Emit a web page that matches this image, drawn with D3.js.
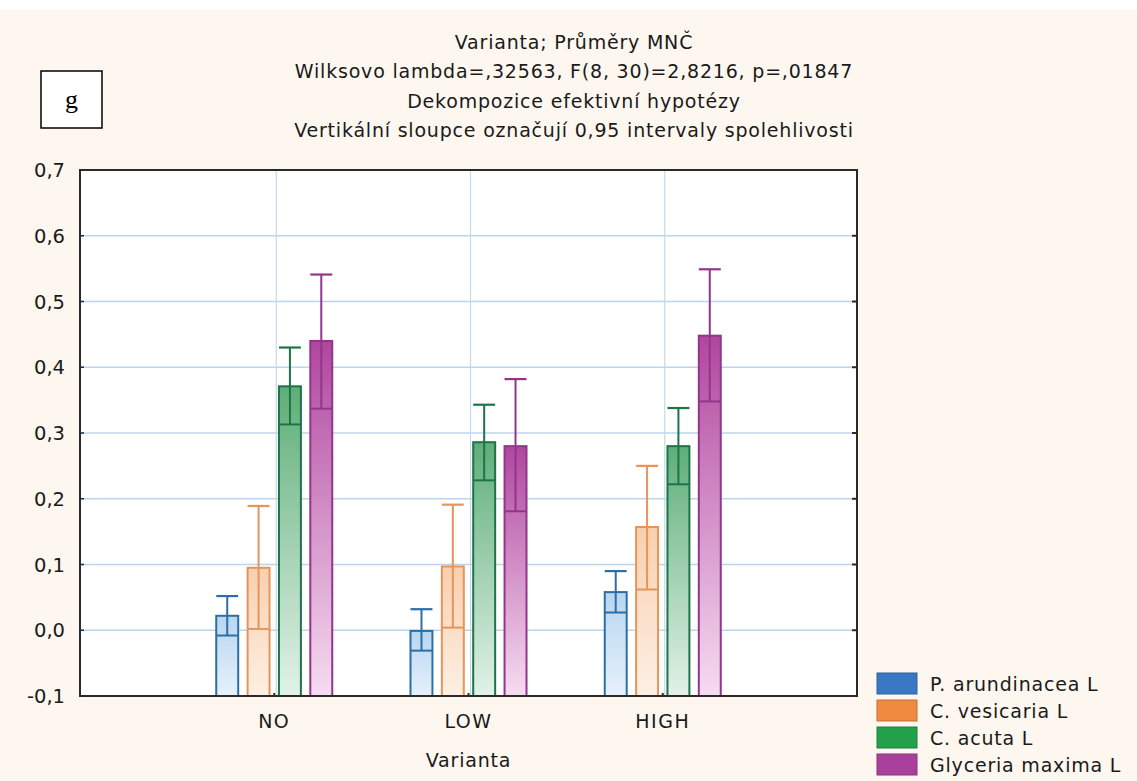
<!DOCTYPE html>
<html lang="cs">
<head>
<meta charset="UTF-8">
<title>Varianta; Průměry MNČ</title>
<script src="https://d3js.org/d3.v7.min.js"></script>
<style>
  body { margin: 0; background: #fff; }
  text { font-family: "DejaVu Sans", Verdana, sans-serif; fill: #1a1a1a; }
</style>
</head>
<body>
<svg width="1137" height="781"></svg>
<script>
    // data
    var categories = ["NO", "LOW", "HIGH"];
    var seriesNames = ["P. arundinacea L", "C. vesicaria L", "C. acuta L", "Glyceria maxima L"];
    // means per series, in order NO, LOW, HIGH
    var meanArund = [0.022, -0.001, 0.058];
    var meanVesic = [0.095, 0.097, 0.157];
    var meanAcuta = [0.371, 0.286, 0.280];
    var meanGlyc  = [0.440, 0.280, 0.448];
    // 0.95 confidence limits
    var lowArund = [-0.008, -0.031, 0.027], highArund = [0.052, 0.032, 0.090];
    var lowVesic = [0.002, 0.004, 0.062],   highVesic = [0.189, 0.191, 0.250];
    var lowAcuta = [0.313, 0.228, 0.222],   highAcuta = [0.430, 0.343, 0.338];
    var lowGlyc  = [0.337, 0.181, 0.348],   highGlyc  = [0.541, 0.382, 0.549];
    var yTicks = [-0.1, 0, 0.1, 0.2, 0.3, 0.4, 0.5, 0.6, 0.7];
    var titleLines = [
        "Varianta; Průměry MNČ",
        "Wilksovo lambda=,32563, F(8, 30)=2,8216, p=,01847",
        "Dekompozice efektivní hypotézy",
        "Vertikální sloupce označují 0,95 intervaly spolehlivosti"
    ];

    var means = [meanArund, meanVesic, meanAcuta, meanGlyc];
    var lows = [lowArund, lowVesic, lowAcuta, lowGlyc];
    var highs = [highArund, highVesic, highAcuta, highGlyc];

    var fills = [["#b8d6f0", "#e6f1fb"], ["#f9cfae", "#fdf0e4"], ["#5eae78", "#e2f2e8"], ["#b0469f", "#f6dcf1"]];
    var strokes = ["#2c6ea6", "#e5955c", "#1d7448", "#93358b"];
    var legendColors = ["#3b78c4", "#f08a40", "#23a04b", "#a8409c"];

    var svg = d3.select("svg");
    var plot = {left: 80, right: 857, top: 170, bottom: 696};

    // backgrounds
    svg.append("rect").attr("x", 0).attr("y", 10).attr("width", 1137).attr("height", 771).attr("fill", "#fdf7f0");
    svg.append("rect").attr("x", plot.left).attr("y", plot.top)
        .attr("width", plot.right - plot.left).attr("height", plot.bottom - plot.top).attr("fill", "#fff");

    var x = d3.scalePoint().domain(categories).range([plot.left, plot.right]).padding(1);
    var xs = d3.scaleBand().domain(d3.range(seriesNames.length)).range([-58, 58]).paddingInner(0.3);
    var y = d3.scaleLinear().domain([-0.1, 0.7]).range([plot.bottom, plot.top]);

    var defs = svg.append("defs");
    fills.forEach(function(f, i) {
        var gr = defs.append("linearGradient").attr("id", "grad" + i)
            .attr("x1", 0).attr("y1", 0).attr("x2", 0).attr("y2", 1);
        gr.append("stop").attr("offset", "0%").attr("stop-color", f[0]);
        gr.append("stop").attr("offset", "100%").attr("stop-color", f[1]);
    });

    // grid
    var grid = svg.append("g");
    yTicks.slice(1, -1).forEach(function(t) {
        grid.append("line").attr("x1", plot.left).attr("x2", plot.right)
            .attr("y1", y(t)).attr("y2", y(t)).attr("stroke", "#bcd5ec").attr("stroke-width", 1.3);
    });
    categories.forEach(function(c) {
        grid.append("line").attr("x1", x(c) + 2).attr("x2", x(c) + 2)
            .attr("y1", plot.top).attr("y2", plot.bottom).attr("stroke", "#c4d9ee").attr("stroke-width", 1.2);
    });

    // bars and error bars
    var bars = svg.append("g");
    seriesNames.forEach(function(s, i) {
        categories.forEach(function(c, j) {
            var bx = x(c) + xs(i), bw = xs.bandwidth();
            var top = Math.min(y(means[i][j]), plot.bottom), base = plot.bottom;
            bars.append("rect").attr("x", bx).attr("y", top)
                .attr("width", bw).attr("height", base - top)
                .attr("fill", "url(#grad" + i + ")")
                .attr("stroke", strokes[i]).attr("stroke-width", 2);
            var cx = bx + bw / 2;
            bars.append("line").attr("x1", cx).attr("x2", cx)
                .attr("y1", y(highs[i][j])).attr("y2", y(lows[i][j]))
                .attr("stroke", strokes[i]).attr("stroke-width", 2);
            bars.append("line").attr("x1", bx).attr("x2", bx + bw)
                .attr("y1", y(highs[i][j])).attr("y2", y(highs[i][j]))
                .attr("stroke", strokes[i]).attr("stroke-width", 2.2);
            bars.append("line").attr("x1", bx).attr("x2", bx + bw)
                .attr("y1", y(lows[i][j])).attr("y2", y(lows[i][j]))
                .attr("stroke", strokes[i]).attr("stroke-width", 2);
        });
    });

    // frame and ticks
    svg.append("rect").attr("x", plot.left).attr("y", plot.top)
        .attr("width", plot.right - plot.left).attr("height", plot.bottom - plot.top)
        .attr("fill", "none").attr("stroke", "#2a2a2a").attr("stroke-width", 2);
    var fmt = function(v) { return d3.format(".1f")(v).replace(".", ",").replace("−", "-"); };
    yTicks.forEach(function(t) {
        svg.append("line").attr("x1", plot.left).attr("x2", plot.left + 4)
            .attr("y1", y(t)).attr("y2", y(t)).attr("stroke", "#2a2a2a").attr("stroke-width", 1.5);
        svg.append("line").attr("x1", plot.right - 5).attr("x2", plot.right)
            .attr("y1", y(t)).attr("y2", y(t)).attr("stroke", "#2a2a2a").attr("stroke-width", 2);
        svg.append("text").attr("x", 65).attr("y", y(t) + 7)
            .attr("text-anchor", "end").attr("font-size", 19.5).text(fmt(t));
    });
    categories.forEach(function(c) {
        svg.append("line").attr("x1", x(c)).attr("x2", x(c))
            .attr("y1", plot.bottom - 3).attr("y2", plot.bottom).attr("stroke", "#2a2a2a").attr("stroke-width", 2);
        svg.append("text").attr("x", x(c)).attr("y", 728)
            .attr("text-anchor", "middle").attr("font-size", 19).attr("letter-spacing", 1.5).text(c);
    });
    svg.append("text").attr("x", (plot.left + plot.right) / 2).attr("y", 767)
        .attr("text-anchor", "middle").attr("font-size", 19).attr("letter-spacing", 0.8).text("Varianta");

    // titles
    titleLines.forEach(function(t, i) {
        svg.append("text").attr("x", 574).attr("y", 49 + i * 29.3)
            .attr("text-anchor", "middle").attr("font-size", 19).attr("letter-spacing", 0.8).text(t);
    });

    // panel label
    svg.append("rect").attr("x", 41).attr("y", 71).attr("width", 61).attr("height", 57)
        .attr("fill", "#fff").attr("stroke", "#000").attr("stroke-width", 1.5);
    svg.append("text").attr("x", 71.5).attr("y", 108).attr("text-anchor", "middle")
        .style("font-family", "'Liberation Serif', 'Times New Roman', serif")
        .attr("font-size", 26).style("fill", "#000").text("g");

    // legend
    var legend = svg.append("g").attr("transform", "translate(877,673)");
    seriesNames.forEach(function(s, i) {
        legend.append("rect").attr("x", 0).attr("y", i * 27).attr("width", 40).attr("height", 21)
            .attr("fill", legendColors[i]).attr("stroke", d3.color(legendColors[i]).darker(0.6)).attr("stroke-width", 1);
        legend.append("text").attr("x", 53).attr("y", i * 27 + 18)
            .attr("font-size", 19).attr("letter-spacing", 0.8).text(s);
    });
</script>
</body>
</html>
